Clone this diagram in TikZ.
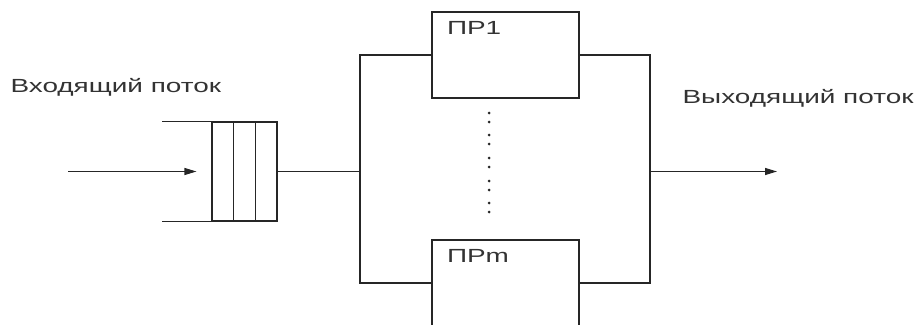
\documentclass[tikz,border=0pt]{standalone}
\usepackage{fontspec}
\newfontfamily\flowfont[FakeStretch=1.47]{Liberation Sans}
\usetikzlibrary{arrows.meta}
\usetikzlibrary{positioning}

\begin{document}
\begin{tikzpicture}[x=1pt, y=-1pt, line width=1.1pt,
    wire/.style={draw=black!85},
    flow/.style={wire, -{Triangle[length=12pt, width=7pt]}},
    procbox/.style={draw=black!85, minimum width=147pt, minimum height=86pt, inner sep=0pt},
    lbl/.style={font=\flowfont\fontsize{19}{22}\selectfont, text=black!80, inner sep=0pt}]
    \useasboundingbox (0,0) rectangle (915,324);
    \clip (0,0) rectangle (915,324);

    % queue with three cells
    \node[draw=black!85, minimum width=65pt, minimum height=99pt, inner sep=0pt] (queue) at (244.5,171.5) {};
    \foreach \dx in {22,44}{
        \draw[wire] ([xshift=\dx pt]queue.north west) -- ([xshift=\dx pt]queue.south west);
    }
    \draw[wire] (queue.north west) -- ++(-49,0);
    \draw[wire] (queue.south west) -- ++(-49,0);

    \coordinate (in) at (68,171.5);
    \draw[flow] (in) -- ([xshift=-15pt]queue.west);

    % processors
    \node[procbox] (pr1) at (505.5,55) {};
    \node[procbox] (prm) at (505.5,283) {};
    \node[lbl, anchor=base west] (pr1lbl) at ([shift={(15pt,-23pt)}]pr1.north west) {ПР1};
    \node[lbl, anchor=base west] (prmlbl) at ([shift={(15pt,-23pt)}]prm.north west) {ПРm};

    \foreach \y in {113,122,135,144,158,167,181,190,203,212}
        \fill[black!85] (489,\y) circle (1.5pt);

    % buses
    \coordinate (lbus) at (360,171.5);
    \coordinate (rbus) at (650,171.5);
    \coordinate (out) at (777,171.5);
    \draw[wire] (queue.east) -- (lbus);
    \draw[wire] (pr1.west) -| (lbus) |- (prm.west);
    \draw[wire] (pr1.east) -| (rbus) |- (prm.east);
    \draw[flow] (rbus) -- (out);

    \node[lbl, anchor=base west] (inlbl) at (10,92) {Входящий поток};
    \node[lbl, anchor=base west] (outlbl) at (682,103) {Выходящий поток};
\end{tikzpicture}
\end{document}
